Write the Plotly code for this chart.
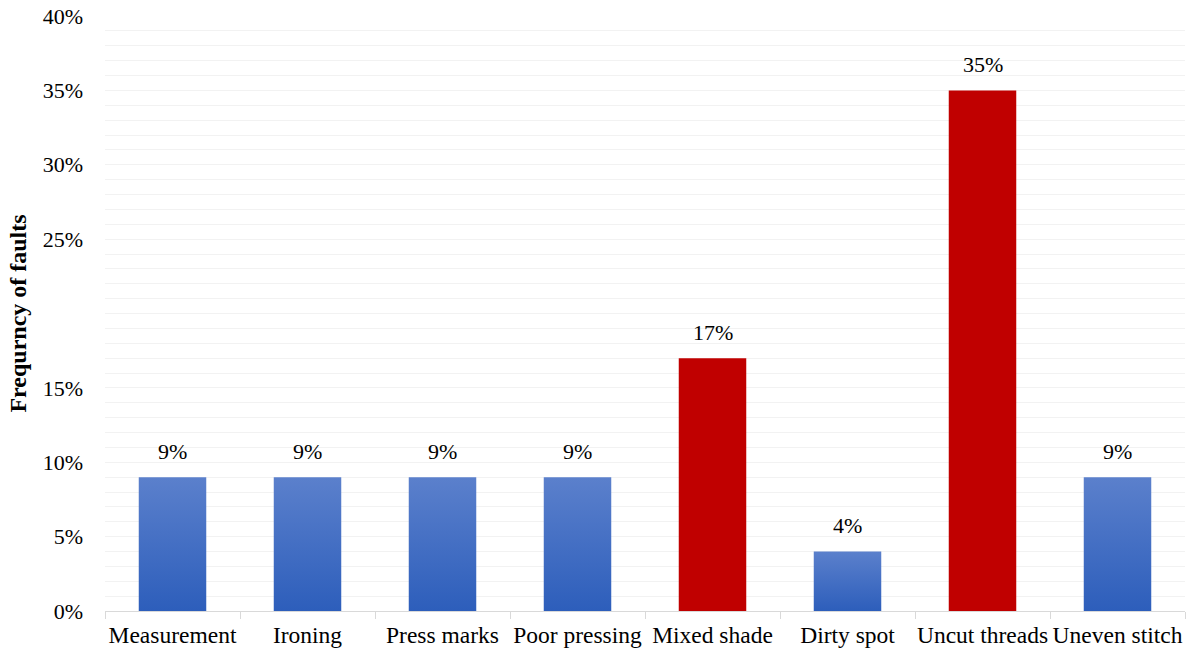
import plotly.graph_objects as go

# Fault categories and their share of all faults (%)
categories = ["Measurement", "Ironing", "Press marks", "Poor pressing",
              "Mixed shade", "Dirty spot", "Uncut threads", "Uneven stitch"]
frequency = [9, 9, 9, 9, 17, 4, 35, 9]
highlighted = [False, False, False, False, True, False, True, False]

y_tick_values = [0, 5, 10, 15, 25, 30, 35, 40]
y_tick_labels = ["0%", "5%", "10%", "15%", "25%", "30%", "35%", "40%"]

FONT = "Liberation Serif"
RED = "#C00000"
BLUE_TOP = "#5B80CC"
BLUE_BOTTOM = "#2D5EBB"
HALF_WIDTH = 0.25

fig = go.Figure()

for i, (name, value, hot) in enumerate(zip(categories, frequency, highlighted)):
    if hot:
        fig.add_trace(go.Bar(
            x=[i], y=[value], width=2 * HALF_WIDTH,
            marker=dict(color=RED, line=dict(width=0)),
            name=name, showlegend=False, hoverinfo="skip",
        ))
    else:
        # Gradient-filled column built as a closed polygon
        xs = [i - HALF_WIDTH, i + HALF_WIDTH, i + HALF_WIDTH, i - HALF_WIDTH, i - HALF_WIDTH]
        ys = [0, 0, value, value, 0]
        fig.add_trace(go.Scatter(
            x=xs, y=ys, mode="lines", fill="toself",
            line=dict(width=0, color=BLUE_BOTTOM),
            fillgradient=dict(type="vertical",
                              colorscale=[[0, BLUE_BOTTOM], [1, BLUE_TOP]]),
            name=name, showlegend=False, hoverinfo="skip",
        ))
    fig.add_annotation(
        x=i, y=value, text=f"{value}%", showarrow=False,
        yanchor="middle", yshift=26,
        font=dict(family=FONT, size=22, color="#000000"),
    )

fig.update_layout(
    width=1192, height=655,
    margin=dict(l=105, r=7, t=16, b=44),
    paper_bgcolor="white", plot_bgcolor="white",
    font=dict(family=FONT, size=22, color="#000000"),
    showlegend=False,
    barmode="overlay",
)

fig.update_xaxes(
    range=[-0.5, len(categories) - 0.5],
    tickmode="array", tickvals=list(range(len(categories))), ticktext=categories,
    tickangle=0, automargin=False,
    ticks="", showgrid=False, zeroline=False,
    showline=True, linecolor="#D9D9D9", linewidth=1,
    minor=dict(tick0=-0.5, dtick=1, ticks="outside", ticklen=7,
               tickcolor="#D9D9D9", tickwidth=1, showgrid=False),
    tickfont=dict(family=FONT, size=23.5),
    ticklabelstandoff=3,
)

fig.update_yaxes(
    range=[0, 40],
    tickmode="array", tickvals=y_tick_values, ticktext=y_tick_labels,
    automargin=False,
    ticks="", showgrid=True, gridcolor="#F2F2F2", gridwidth=1,
    zeroline=False, showline=False,
    minor=dict(dtick=1, showgrid=True, gridcolor="#F2F2F2", gridwidth=1),
    tickfont=dict(family=FONT, size=22),
    ticklabelstandoff=21,
    title=dict(text="<b>Frequrncy of faults</b>",
               font=dict(family=FONT, size=24), standoff=9),
)

fig.write_html("out.html")
